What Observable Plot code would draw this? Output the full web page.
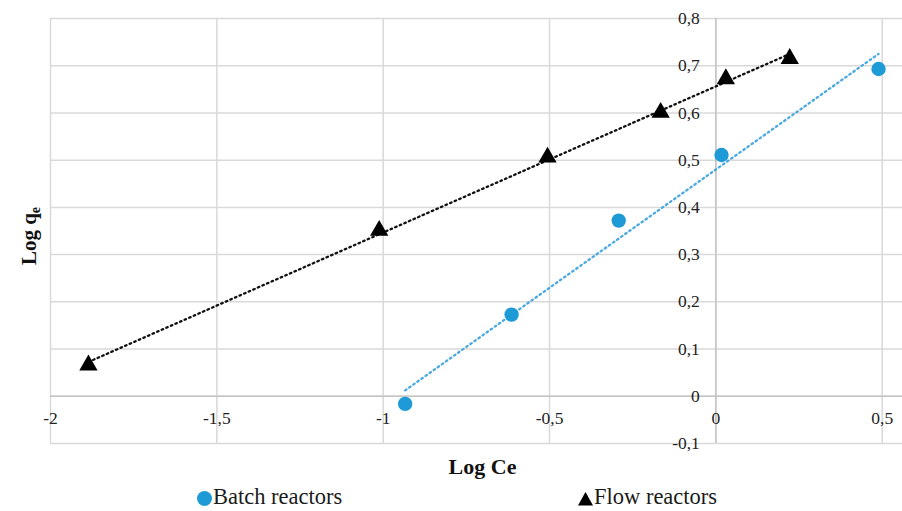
<!DOCTYPE html>
<html>
<head>
<meta charset="utf-8">
<script src="https://cdn.jsdelivr.net/npm/d3@7"></script>
<script src="https://cdn.jsdelivr.net/npm/@observablehq/plot@0.6"></script>
<style>
  html, body { margin: 0; padding: 0; background: #fff; overflow: hidden; }
  #chart { width: 902px; height: 511px; position: relative; }
  #legend { position: absolute; left: 0; top: 485px; width: 902px; height: 24px; font-size: 22.5px; line-height: 24px; color: #1a1a1a; font-family: 'Liberation Serif'; }
  .item { position: absolute; top: 0; height: 24px; white-space: nowrap; }
  .item svg { position: absolute; top: 5px; }
  .item span { position: absolute; top: 0; white-space: nowrap; }
</style>
</head>
<body>
<div id="chart"></div>
<script>
// Data
const batchX = [-0.934, -0.614, -0.292, 0.017, 0.489];
const batchY = [-0.016, 0.173, 0.372, 0.511, 0.693];
const flowX = [-1.886, -1.012, -0.506, -0.166, 0.030, 0.222];
const flowY = [0.066, 0.351, 0.506, 0.601, 0.672, 0.715];
const xTicks = [-2, -1.5, -1, -0.5, 0, 0.5];
const yTicks = [-0.1, 0, 0.1, 0.2, 0.3, 0.4, 0.5, 0.6, 0.7, 0.8];
const seriesNames = ["Batch reactors", "Flow reactors"];

const batch = batchX.map((x, i) => ({x, y: batchY[i]}));
const flow = flowX.map((x, i) => ({x, y: flowY[i]}));
const fmt = v => String(v).replace(".", ",");
const blue = "#1e9ad6";
const grid = "#d9d9d9";
const serif = "Liberation Serif";

const plot = Plot.plot({
  width: 902,
  height: 485,
  marginLeft: 50,
  marginRight: 0,
  marginTop: 18,
  marginBottom: 42,
  x: {domain: [-2, 0.561], axis: null},
  y: {domain: [-0.1, 0.8], axis: null},
  style: {fontFamily: "'Liberation Serif', serif", background: "#fff"},
  marks: [
    Plot.ruleY(yTicks, {x1: -2, x2: 0.561, stroke: grid, strokeWidth: 1.5}),
    Plot.ruleX(xTicks, {y1: -0.1, y2: 0.8, stroke: grid, strokeWidth: 1.5}),
    Plot.ruleX([0], {y1: -0.1, y2: 0.8, stroke: "#c4c4c4", strokeWidth: 1.5}),
    Plot.ruleY([0], {x1: -2, x2: 0.561, stroke: "#c4c4c4", strokeWidth: 1.5}),
    Plot.text(xTicks, {x: d => d, y: 0, text: fmt, dy: 22, fontSize: 17.5, fontFamily: serif, fill: "#222"}),
    Plot.text(yTicks, {x: 0, y: d => d, text: fmt, dx: -16, textAnchor: "end", fontSize: 17.5, fontFamily: serif, fill: "#222"}),
    Plot.linearRegressionY(batch, {x: "x", y: "y", ci: 0, stroke: "#4aa9e0", strokeWidth: 2.3, strokeDasharray: "1.6,3.4", strokeLinecap: "round"}),
    Plot.linearRegressionY(flow, {x: "x", y: "y", ci: 0, stroke: "#111", strokeWidth: 2.3, strokeDasharray: "1.6,3.4", strokeLinecap: "round"}),
    Plot.dot(batch, {x: "x", y: "y", r: 7.2, fill: blue, stroke: "none"}),
    Plot.dot(flow, {x: "x", y: "y", r: 6.8, symbol: "triangle", fill: "#000", stroke: "none"}),
    Plot.text(["Log Ce"], {x: -0.7015, y: -0.1, dy: 23, text: d => d, fontSize: 22, fontWeight: "bold", fontFamily: serif, fill: "#111"})
  ]
});

// y axis title with subscript
const svg = d3.select(plot);
const yt = svg.append("text")
  .attr("transform", "translate(36,236) rotate(-90)")
  .attr("text-anchor", "middle")
  .attr("font-size", 21)
  .attr("font-weight", "bold")
  .attr("fill", "#111")
  .attr("font-family", serif);
yt.append("tspan").text("Log q");
yt.append("tspan").attr("font-size", 14).attr("dy", 4).text("e");

const chart = document.getElementById("chart");
chart.appendChild(plot);

const legend = document.createElement("div");
legend.id = "legend";
legend.innerHTML = `
  <div class="item" style="left:196px"><svg width="17" height="17"><circle cx="8.5" cy="8.5" r="7.5" fill="${blue}"/></svg><span style="left:17px">${seriesNames[0]}</span></div>
  <div class="item" style="left:577px"><svg width="17" height="17"><path d="M1,15.5 L8.5,2 L16,15.5 Z" fill="#000"/></svg><span style="left:17px">${seriesNames[1]}</span></div>`;
chart.appendChild(legend);
</script>
</body>
</html>
